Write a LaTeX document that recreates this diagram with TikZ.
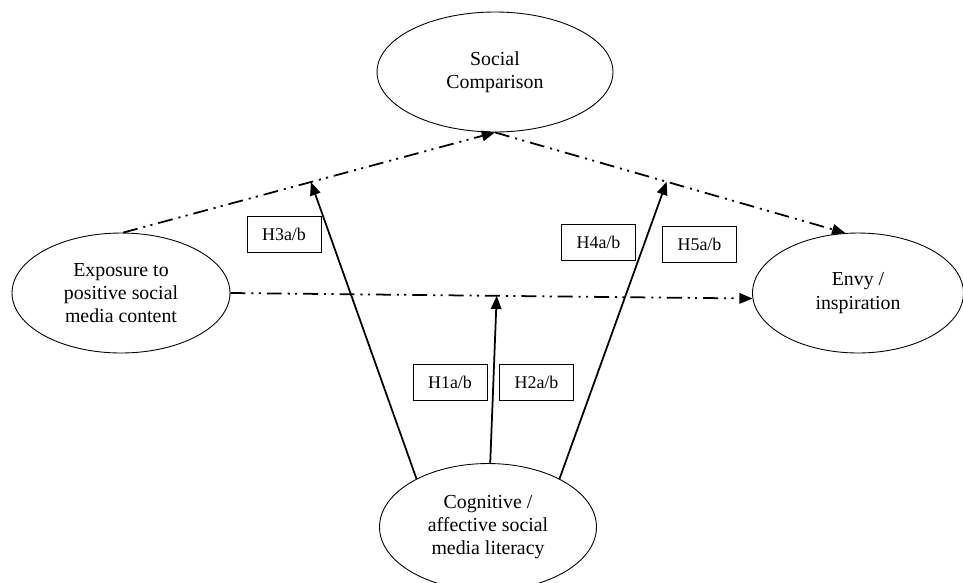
\documentclass[tikz,border=0pt]{standalone}
\usepackage{fontspec}
\setmainfont{Liberation Serif}
\usepackage{tikz}
\usetikzlibrary{positioning}
\usetikzlibrary{arrows.meta,shapes.geometric,calc}

\tikzset{
  construct/.style={draw, ellipse, line width=0.5pt, inner sep=0pt, align=center,
    font=\fontsize{11.3}{13.3}\selectfont},
  hypbox/.style={draw, rectangle, line width=0.5pt, minimum width=1.48cm, minimum height=0.72cm,
    inner sep=0pt, font=\fontsize{10.2}{12}\selectfont},
  dashpath/.style={line width=1pt, dash pattern=on 8.5pt off 3.4pt on 1.2pt off 3pt on 1.2pt off 3.4pt,
    -{Triangle[length=7.5pt,width=6pt]}},
  modpath/.style={line width=1pt, -{Triangle[length=7.5pt,width=6pt]}}
}

\begin{document}
\begin{tikzpicture}[x=0.02cm, y=-0.02cm]
\useasboundingbox (0,0) rectangle (963,582);

% constructs
\node[construct, minimum width=4.72cm, minimum height=2.4cm] (soc) at (495,72) {Social\\Comparison};
\node[construct, minimum width=4.36cm, minimum height=2.4cm] (expo) at (121,293) {Exposure to\\positive social\\media content};
\node[construct, minimum width=4.22cm, minimum height=2.4cm] (envy) at (858,293) {Envy /\\inspiration};
\node[construct, minimum width=4.34cm, minimum height=2.54cm] (cog) at (488,527) {Cognitive /\\affective social\\media literacy};

% direct and mediated paths
\draw[dashpath] (expo.88) -- (soc.south);
\draw[dashpath] (soc.south) -- (envy.102);
\draw[dashpath] (expo.east) -- (envy.183);

% points where the moderator meets the paths
\coordinate (m3) at ($(expo.88)!0.505!(soc.south)$);
\coordinate (m4) at ($(soc.south)!0.49!(envy.102)$);
\coordinate (m1) at ($(expo.east)!0.51!(envy.183)$);

\draw[modpath] (cog.146) -- (m3);
\draw[modpath] (cog.88) -- (m1);
\draw[modpath] (cog.34) -- (m4);

% hypotheses
\node[hypbox] (h3) at (284,234.5) {H3a/b};
\node[hypbox] (h4) at (598.5,242) {H4a/b};
\node[hypbox] (h5) at (699.5,244) {H5a/b};
\node[hypbox] (h1) at (450,382) {H1a/b};
\node[hypbox] (h2) at (536.5,382) {H2a/b};
\end{tikzpicture}
\end{document}
